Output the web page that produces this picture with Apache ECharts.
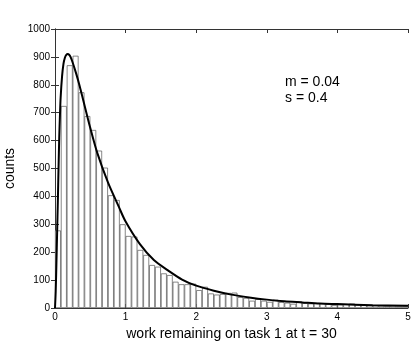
<!DOCTYPE html>
<html>
<head>
<meta charset="utf-8">
<script src="https://cdn.jsdelivr.net/npm/echarts@6/dist/echarts.min.js"></script>
<style>
  html, body { margin: 0; padding: 0; background: #fff; }
  #chart { width: 415px; height: 341px; }
</style>
</head>
<body>
<div id="chart"></div>
<script>
// histogram counts, 60 bins from 0 to 5
var counts = [278, 724, 870, 904, 773, 688, 638, 564, 503, 404,
              387, 300, 258, 256, 208, 190, 154, 148, 124, 118,
              94, 85, 85, 87, 64, 76, 52, 48, 50, 54,
              55, 39, 36, 26, 32, 26, 22, 30, 21, 19,
              15, 24, 18, 16, 18, 17, 14, 10, 12, 14,
              16, 12, 10, 9, 9, 8, 7, 8, 6, 6];
var binNames = counts.map(function (c, i) { return 'b' + i; });

// fitted curve
var curveX = [0, 0.01, 0.02, 0.03, 0.04, 0.05, 0.06, 0.07, 0.08, 0.1, 0.12, 0.14, 0.16, 0.18, 0.2, 0.22, 0.25,
              0.3, 0.35, 0.4, 0.5, 0.6, 0.75, 0.9, 1.0, 1.2, 1.4, 1.6, 1.8, 2.0, 2.25, 2.5, 2.75, 3.0, 3.25,
              3.5, 3.75, 4.0, 4.5, 5.0];
var curveY = [0, 60, 160, 270, 380, 500, 610, 690, 755, 830, 875, 897, 907, 910, 908, 900, 880,
              840, 795, 745, 645, 555, 450, 365, 310, 230, 172, 135, 102, 80, 62, 48, 38, 30, 24,
              20, 16, 14, 10, 8];

var xTicks = [0, 5, 1];      // min, max, step
var yTicks = [0, 1000, 100];

var font = 'Liberation Sans, Arial, Helvetica, sans-serif';
var frame = { lineStyle: { color: '#333', width: 1 } };
var plain = function (v) { return String(v); };

var myChart = echarts.init(document.getElementById('chart'));

option = {
    animation: false,
    grid: { left: 55, right: 7, top: 29, bottom: 33, containLabel: false, outerBoundsMode: 'none' },
    xAxis: [
        {
            type: 'category',
            data: binNames,
            show: false,
            boundaryGap: true
        },
        {
            type: 'value',
            position: 'bottom',
            min: xTicks[0], max: xTicks[1], interval: xTicks[2],
            axisLine: frame,
            axisTick: { inside: true, length: 4, lineStyle: { color: '#333' } },
            axisLabel: { fontSize: 10, color: '#000', fontFamily: font, margin: 4, formatter: plain },
            splitLine: { show: false },
            name: 'work remaining on task 1 at t = 30',
            nameLocation: 'middle',
            nameGap: 15,
            nameTextStyle: { fontSize: 14, color: '#000', fontFamily: font }
        },
        {
            type: 'value',
            position: 'top',
            min: xTicks[0], max: xTicks[1], interval: xTicks[2],
            axisLine: frame,
            axisTick: { inside: true, length: 4, lineStyle: { color: '#333' } },
            axisLabel: { show: false },
            splitLine: { show: false }
        }
    ],
    yAxis: [
        {
            type: 'value',
            position: 'left',
            min: yTicks[0], max: yTicks[1], interval: yTicks[2],
            axisLine: { show: true, lineStyle: { color: '#333', width: 1 } },
            axisTick: { show: true, inside: true, length: 4, lineStyle: { color: '#333' } },
            axisLabel: { fontSize: 10, color: '#000', fontFamily: font, margin: 5, formatter: plain },
            splitLine: { show: false },
            name: 'counts',
            nameLocation: 'middle',
            nameGap: 35,
            nameTextStyle: { fontSize: 14, color: '#000', fontFamily: font }
        },
        {
            type: 'value',
            position: 'right',
            min: yTicks[0], max: yTicks[1], interval: yTicks[2],
            axisLine: { show: true, lineStyle: { color: '#333', width: 1 } },
            axisTick: { show: true, inside: true, length: 4, lineStyle: { color: '#333' } },
            axisLabel: { show: false },
            splitLine: { show: false }
        }
    ],
    graphic: [
        { type: 'text', left: 285, top: 75, style: { text: 'm = 0.04', fontSize: 14, fontFamily: font, fill: '#000' } },
        { type: 'text', left: 285, top: 91, style: { text: 's = 0.4', fontSize: 14, fontFamily: font, fill: '#000' } }
    ],
    series: [
        {
            type: 'bar',
            xAxisIndex: 0,
            yAxisIndex: 0,
            data: counts,
            barCategoryGap: '0%',
            itemStyle: { color: '#fff', borderColor: '#555', borderWidth: 0.7 }
        },
        {
            type: 'line',
            xAxisIndex: 1,
            yAxisIndex: 0,
            data: curveX.map(function (x, i) { return [x, curveY[i]]; }),
            smooth: 0.3,
            showSymbol: false,
            lineStyle: { color: '#000', width: 2 },
            z: 5
        }
    ]
};

myChart.setOption(option);
</script>
</body>
</html>
